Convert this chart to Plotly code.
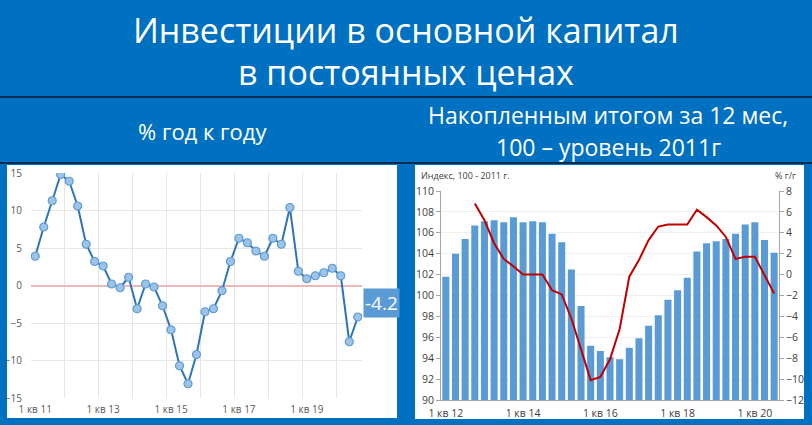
import plotly.graph_objects as go

W, H = 812, 425

# ---------------- data ----------------
# Left chart: investment, % y/y, quarterly 1 кв 2011 – 3 кв 2020
left_categories = [f"{q} кв {y:02d}" for y in range(11, 21) for q in (1, 2, 3, 4)][:39]
left_values = [3.9, 7.8, 11.3, 14.8, 13.9, 10.6, 5.5, 3.2, 2.6, 0.2,
               -0.3, 1.1, -3.1, 0.2, -0.2, -2.7, -5.9, -10.7, -13.1, -9.2,
               -3.5, -3.1, -0.7, 3.2, 6.3, 5.7, 4.6, 3.9, 6.3, 5.5,
               10.4, 1.9, 0.9, 1.3, 1.7, 2.3, 1.3, -7.5, -4.2]
left_xticks = ["1 кв 11", "1 кв 13", "1 кв 15", "1 кв 17", "1 кв 19"]
left_yticks = [-15, -10, -5, 0, 5, 10, 15]

# Right chart: rolling 12 months, index (2011 = 100) and % y/y, 1 кв 2012 – 3 кв 2020
right_categories = [f"{q} кв {y:02d}" for y in range(12, 21) for q in (1, 2, 3, 4)][:35]
index_values = [101.8, 104.0, 105.4, 106.7, 107.1, 107.2, 107.0, 107.5, 107.0, 107.1,
                107.0, 105.9, 105.1, 102.5, 99.0, 95.2, 94.7, 94.1, 93.9, 95.0,
                95.9, 97.1, 98.1, 99.6, 100.5, 101.7, 104.2, 105.0, 105.2, 105.4,
                105.9, 106.8, 107.0, 105.3, 104.1]
yoy_values = [None, None, None, 6.8, 5.2, 3.0, 1.5, 0.8, 0.0, 0.0,
              0.0, -1.5, -1.9, -4.2, -7.2, -10.1, -9.8, -8.1, -5.2, -0.2,
              1.4, 3.3, 4.6, 4.8, 4.8, 4.8, 6.2, 5.5, 4.7, 3.6,
              1.5, 1.7, 1.7, -0.1, -1.8]
right_xticks = ["1 кв 12", "1 кв 14", "1 кв 16", "1 кв 18", "1 кв 20"]
index_ticks = list(range(90, 111, 2))
yoy_ticks = list(range(-12, 9, 2))

title_lines = ["Инвестиции в основной капитал", "в постоянных ценах"]
left_subtitle = "% год к году"
right_subtitle = ["Накопленным итогом за 12 мес,", "100 – уровень 2011г"]

# ---------------- helpers ----------------
def px(x):
    return x / W

def py(y):
    return 1 - y / H

BLUE_BG = "#0070C0"
FONT = "Open Sans, sans-serif"
TICK_FONT = dict(family="Open Sans, sans-serif", size=10, color="#595959")
RTICK_FONT = dict(family="Open Sans, sans-serif", size=10.5, color="#404040")

lx = list(range(len(left_categories)))
rx = list(range(len(right_categories)))

fig = go.Figure()

fig.add_trace(go.Scatter(
    x=lx, y=left_values, mode="lines+markers",
    line=dict(color="#2E75B6", width=2),
    marker=dict(size=8, color="#9DC3E6", line=dict(color="#5B9BD5", width=1.2)),
    xaxis="x", yaxis="y", showlegend=False, hoverinfo="y",
))

fig.add_trace(go.Bar(
    x=rx, y=index_values, marker=dict(color="#5B9BD5", line=dict(width=0)),
    xaxis="x2", yaxis="y2", showlegend=False,
))
fig.add_trace(go.Scatter(
    x=rx, y=yoy_values, mode="lines", line=dict(color="#C00000", width=2),
    xaxis="x2", yaxis="y3", showlegend=False, connectgaps=False,
))

fig.update_layout(
    width=W, height=H, margin=dict(l=0, r=0, t=0, b=0, pad=0, autoexpand=False),
    paper_bgcolor=BLUE_BG, plot_bgcolor="white",
    bargap=0.27,
    xaxis=dict(
        domain=[px(31), px(362)], range=[-0.5, len(lx) - 0.5],
        tickvals=[left_categories.index(t) for t in left_xticks], ticktext=left_xticks,
        showgrid=False, zeroline=False, showline=False, ticks="", automargin=False,
        tickfont=TICK_FONT, ticklabelstandoff=4,
        minor=dict(tick0=-0.5, dtick=4, showgrid=True, gridcolor="#E6E6E6", gridwidth=1, ticks=""),
        anchor="y",
    ),
    yaxis=dict(
        domain=[py(398), py(173)], range=[-15, 15], tickvals=left_yticks,
        showgrid=True, gridcolor="#E6E6E6", zeroline=True, zerolinecolor="#EBB7B7", zerolinewidth=1.5,
        tickfont=TICK_FONT, ticks="", anchor="x", ticklabelstandoff=8, automargin=False,
    ),
    xaxis2=dict(
        domain=[px(441), px(779)], range=[-0.5, len(rx) - 0.5],
        tickvals=[right_categories.index(t) for t in right_xticks], ticktext=right_xticks,
        showgrid=False, zeroline=False, showline=True, linecolor="#A6A6A6", linewidth=1,
        ticks="", tickfont=RTICK_FONT, ticklabelstandoff=3, automargin=False,
        anchor="y2",
    ),
    yaxis2=dict(
        domain=[py(400), py(191)], range=[90, 110], tickvals=index_ticks,
        showgrid=True, gridcolor="#F0F0F0", zeroline=False, automargin=False,
        showline=True, linecolor="#A6A6A6", linewidth=1, ticks="outside", ticklen=4, tickcolor="#A6A6A6",
        tickfont=RTICK_FONT, anchor="x2",
    ),
    yaxis3=dict(
        range=[-12, 8], tickvals=yoy_ticks, overlaying="y2", side="right",
        showgrid=False, zeroline=False, automargin=False,
        showline=True, linecolor="#A6A6A6", linewidth=1, ticks="outside", ticklen=4, tickcolor="#A6A6A6",
        tickfont=RTICK_FONT, anchor="x2",
    ),
)

shapes = [
    dict(type="rect", xref="paper", yref="paper", x0=px(7), x1=px(397), y0=py(418), y1=py(165),
         fillcolor="white", line=dict(width=0), layer="below"),
    dict(type="rect", xref="paper", yref="paper", x0=px(415), x1=px(804), y0=py(419), y1=py(165),
         fillcolor="white", line=dict(width=0), layer="below"),
    dict(type="line", xref="paper", yref="paper", x0=0, x1=1, y0=py(97), y1=py(97),
         line=dict(color="#0A1A30", width=1.5)),
    dict(type="line", xref="paper", yref="paper", x0=0, x1=1, y0=py(163), y1=py(163),
         line=dict(color="#0A1A30", width=1.5)),
]
fig.update_layout(shapes=shapes)

def txt(text, x, y, size, xanchor="center", color="white", family=FONT):
    return dict(text=text, x=px(x), y=py(y), xref="paper", yref="paper",
                xanchor=xanchor, yanchor="middle", showarrow=False,
                font=dict(family=family, size=size, color=color))

ann = [
    txt(title_lines[0], 406, 30, 34),
    txt(title_lines[1], 406, 72, 34),
    txt(left_subtitle, 202, 131, 22),
    txt(right_subtitle[0], 608, 115, 23),
    txt(right_subtitle[1], 608, 147, 23),
    txt("Индекс, 100 - 2011 г.", 419, 175, 9, xanchor="left", color="#404040"),
    txt("% г/г", 785, 175, 9, color="#404040"),
]
# last value label
ann.append(dict(text=f"{left_values[-1]:.1f}", x=lx[-1], y=left_values[-1], xref="x", yref="y",
                xanchor="left", yanchor="middle", xshift=5, yshift=14, showarrow=False,
                bgcolor="#5B9BD5", borderpad=1,
                font=dict(family=FONT, size=19, color="white")))
fig.update_layout(annotations=ann)

fig.write_html("out.html", config={"displayModeBar": False},
               post_script="document.body.style.margin='0';document.body.style.overflow='hidden';")
